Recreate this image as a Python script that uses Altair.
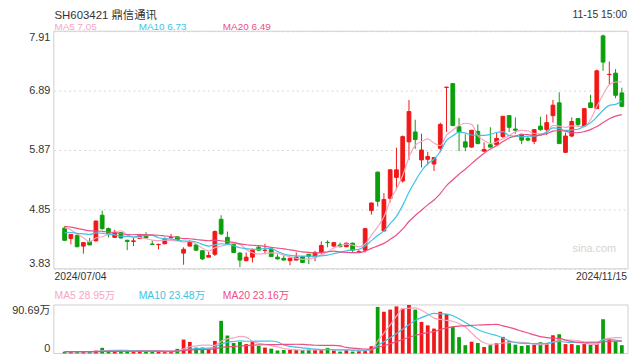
import altair as alt
import pandas as pd
import numpy as np

# ---------------- data ----------------
opens = [4.53, 4.35, 4.40, 4.22, 4.30, 4.31, 4.75, 4.52, 4.37, 4.45,
         4.32, 4.30, 4.35, 4.41, 4.255, 4.245, 4.26, 4.365, 4.38, 4.10,
         4.22, 4.24, 4.14, 4.03, 4.08, 4.68, 4.37, 4.25, 4.10, 3.97,
         4.03, 4.20, 4.145, 4.17, 4.03, 4.01, 3.97, 3.98, 4.04, 4.08,
         4.03, 4.11, 4.285, 4.22, 4.24, 4.21, 4.27, 4.12, 4.15, 4.83,
         5.49, 4.48, 5.04, 5.40, 5.34, 6.01, 6.18, 5.70, 5.71, 5.63,
         5.90, 6.945, 7.01, 6.27, 6.01, 5.92, 6.19, 5.85, 5.96, 5.96,
         6.10, 6.46, 6.23, 6.14, 6.07, 6.02, 6.28, 6.22, 6.46, 6.68,
         5.83, 6.11, 6.41, 6.28, 6.68, 6.58, 7.83, 7.165, 7.19, 6.85]
closes = [4.32, 4.42, 4.21, 4.28, 4.24, 4.65, 4.52, 4.43, 4.46, 4.36,
          4.30, 4.31, 4.40, 4.36, 4.25, 4.25, 4.35, 4.37, 4.32, 4.165,
          4.29, 4.15, 4.00, 4.06, 4.47, 4.43, 4.26, 4.11, 3.98, 4.03,
          4.15, 4.15, 4.15, 4.04, 4.00, 3.98, 4.01, 4.03, 3.94, 4.04,
          4.11, 4.23, 4.28, 4.28, 4.21, 4.27, 4.15, 4.125, 4.52, 4.96,
          4.99, 5.02, 5.53, 5.53, 6.10, 6.53, 6.05, 5.87, 5.76, 5.74,
          6.31, 6.95, 6.29, 6.18, 5.92, 6.21, 5.98, 5.88, 5.92, 6.07,
          6.45, 6.26, 6.21, 6.04, 6.04, 6.22, 6.22, 6.34, 6.64, 5.98,
          6.11, 6.36, 6.31, 6.58, 6.60, 7.23, 7.38, 7.17, 6.81, 6.62]
highs = [4.56, 4.43, 4.43, 4.29, 4.36, 4.66, 4.83, 4.54, 4.50, 4.46,
         4.33, 4.37, 4.43, 4.46, 4.32, 4.26, 4.37, 4.43, 4.39, 4.20,
         4.32, 4.25, 4.15, 4.12, 4.49, 4.75, 4.47, 4.26, 4.12, 4.11,
         4.18, 4.22, 4.26, 4.18, 4.08, 4.06, 4.03, 4.11, 4.05, 4.08,
         4.14, 4.30, 4.32, 4.28, 4.28, 4.28, 4.28, 4.15, 4.53, 4.97,
         5.50, 5.13, 5.54, 5.91, 6.12, 6.73, 6.39, 6.15, 5.84, 5.75,
         6.34, 6.95, 7.01, 6.42, 6.14, 6.21, 6.31, 6.00, 6.26, 6.17,
         6.45, 6.47, 6.43, 6.15, 6.10, 6.23, 6.44, 6.48, 6.73, 6.86,
         6.17, 6.43, 6.42, 6.59, 6.82, 7.25, 7.85, 7.39, 7.26, 6.94]
lows = [4.31, 4.25, 4.20, 4.09, 4.24, 4.30, 4.50, 4.37, 4.36, 4.35,
        4.15, 4.22, 4.34, 4.35, 4.24, 4.165, 4.25, 4.34, 4.31, 3.90,
        4.22, 4.14, 3.98, 4.03, 4.05, 4.41, 4.25, 4.10, 3.86, 3.96,
        3.94, 4.14, 4.08, 4.03, 3.99, 3.98, 3.89, 3.98, 3.93, 3.91,
        3.96, 4.08, 4.20, 4.21, 4.20, 4.20, 4.12, 4.10, 4.11, 4.76,
        4.90, 4.47, 4.97, 5.19, 5.31, 5.70, 5.89, 5.57, 5.61, 5.51,
        5.83, 6.18, 6.28, 5.85, 5.85, 5.91, 5.97, 5.84, 5.91, 5.95,
        6.08, 6.18, 6.15, 5.97, 6.02, 5.97, 6.20, 6.13, 6.34, 5.98,
        5.83, 6.09, 6.27, 6.27, 6.59, 6.58, 7.23, 7.00, 6.76, 6.61]
# volume, in 万 shares
vols = [3.3, 3.3, 3.3, 3.3, 3.3, 5.5, 10.5, 5.5, 5.5, 4.4,
        4.4, 4.4, 4.4, 3.3, 3.3, 3.3, 3.3, 3.3, 8.5, 26.0,
        21.5, 11.0, 11.0, 8.0, 23.5, 61.0, 33.5, 19.5, 21.5, 17.5,
        22.0, 14.0, 11.0, 9.0, 5.5, 6.5, 6.5, 6.5, 6.5, 7.0,
        7.0, 7.0, 10.5, 5.5, 3.5, 6.5, 3.5, 5.5, 6.5, 13.5,
        87.0, 78.0, 82.0, 88.0, 84.0, 90.69, 82.0, 59.0, 52.5, 46.5,
        78.0, 74.0, 50.0, 30.5, 15.5, 22.0, 19.5, 12.0, 15.5, 19.5,
        31.0, 23.0, 16.5, 14.0, 15.5, 16.0, 21.0, 19.5, 34.0, 36.0,
        17.5, 17.5, 15.5, 17.5, 16.0, 17.5, 64.0, 28.0, 22.5, 15.5]
# sessions before 2024/07/04 (only feed the moving averages at the left edge)
prior_closes = [4.67] * 10 + [4.36] * 5 + [4.59] * 4
prior_vols = [3.3] * 19

ma_labels = ["MA5 7.05", "MA10 6.73", "MA20 6.49"]
vma_labels = ["MA5 28.95万", "MA10 23.48万", "MA20 23.16万"]
price_ticks = [3.83, 4.85, 5.87, 6.89, 7.91]
vol_ticks = [0, 90.69]
title_text = "SH603421 鼎信通讯"
time_text = "11-15 15:00"
first_date, last_date = "2024/07/04", "2024/11/15"

# ---------------- table ----------------
n = len(closes)
c_all = pd.Series(prior_closes + closes)
v_all = pd.Series(prior_vols + vols)
k = len(prior_closes)
df = pd.DataFrame({
    "i": np.arange(n),
    "open": opens, "close": closes, "high": highs, "low": lows, "vol": vols,
    "ma5": c_all.rolling(5).mean().iloc[k:].values,
    "ma10": c_all.rolling(10).mean().iloc[k:].values,
    "ma20": c_all.rolling(20).mean().iloc[k:].values,
    "vma5": v_all.rolling(5).mean().iloc[k:].values,
    "vma10": v_all.rolling(10).mean().iloc[k:].values,
    "vma20": v_all.rolling(20).mean().iloc[k:].values,
})
df["dir"] = np.where(df["close"] >= df["open"], "up", "down")

# ---------------- style ----------------
RED, GREEN = "#f01818", "#0b9f0b"
C5, C10, C20 = "#f7a6c2", "#3ec3e5", "#ee4e82"
FONT = "Liberation Sans, Noto Sans CJK SC, sans-serif"
W = 580
PH = 240              # price panel height
VT, VB = 276.5, 325.5  # volume panel top / bottom
FRAME = "#cfcfcf"

xenc = alt.X("i:Q", scale=alt.Scale(domain=[-0.93, 89.2], nice=False, zero=False), axis=None)
pscale = alt.Scale(domain=[3.83, 7.91], range=[PH, 0], nice=False, zero=False)
vscale = alt.Scale(domain=[0, 90.69], range=[VB, VT], nice=False, zero=False)
cscale = alt.Scale(domain=["up", "down"], range=[RED, GREEN])

base = alt.Chart(df)

price_axis = alt.Axis(values=price_ticks, format=".2f", grid=True, gridDash=[2, 3],
                      gridColor="#d8d8d8", ticks=False, domain=False, labelFlush=True,
                      labelPadding=4, labelFontSize=11, labelColor="#333", labelFont=FONT,
                      title=None, orient="left")
vol_axis = alt.Axis(values=vol_ticks, grid=False, ticks=False, domain=False, labelFlush=True,
                    labelExpr="datum.value == 0 ? '0' : format(datum.value, '.2f') + '万'",
                    labelPadding=4, labelFontSize=11, labelColor="#333", labelFont=FONT,
                    title=None, orient="left")

grid_layer = base.mark_rule(opacity=0).encode(
    y=alt.Y("close:Q", scale=pscale, axis=price_axis))

wicks = base.mark_rule(strokeWidth=1).encode(
    x=xenc,
    y=alt.Y("low:Q", scale=pscale, axis=None),
    y2="high:Q",
    color=alt.Color("dir:N", scale=cscale, legend=None))

bodies = base.mark_bar(size=3.8, strokeWidth=1).encode(
    x=xenc,
    y=alt.Y("open:Q", scale=pscale, axis=None),
    y2="close:Q",
    color=alt.Color("dir:N", scale=cscale, legend=None),
    stroke=alt.Stroke("dir:N", scale=cscale, legend=None))

def ma_line(field, color, scale):
    return base.mark_line(strokeWidth=1.2, color=color, interpolate="monotone").encode(
        x=xenc, y=alt.Y(f"{field}:Q", scale=scale, axis=None))

vol_axis_layer = base.mark_rule(opacity=0).encode(
    y=alt.Y("vol:Q", scale=vscale, axis=vol_axis))

vbars = base.mark_bar(size=3.8).encode(
    x=xenc,
    y=alt.Y("vol:Q", scale=vscale, axis=None),
    color=alt.Color("dir:N", scale=cscale, legend=None))

one = pd.DataFrame({"a": [0]})

def frame(y0, y1):
    return alt.Chart(one).mark_rect(filled=False, stroke=FRAME, strokeWidth=1).encode(
        x=alt.value(0), x2=alt.value(W), y=alt.value(y0), y2=alt.value(y1))

def label(text, x, y, color="#333", size=10.5, align="left", baseline="middle"):
    return alt.Chart(one).mark_text(text=text, align=align, baseline=baseline,
                                    fontSize=size, font=FONT, color=color).encode(
        x=alt.value(x), y=alt.value(y))

texts = [
    label(title_text, 0.7, -21.6, size=11.5, baseline="top"),
    label(time_text, W - 1, -21.6, size=10.5, align="right", baseline="top"),
    label(ma_labels[0], 0.7, -4.6, color=C5, size=10),
    label(ma_labels[1], 85.7, -4.6, color=C10, size=10),
    label(ma_labels[2], 170.7, -4.6, color=C20, size=10),
    label(first_date, 0.7, 248.5),
    label(last_date, W - 1, 248.5, align="right"),
    label(vma_labels[0], 0.7, 267.5, color=C5),
    label(vma_labels[1], 85.7, 267.5, color=C10),
    label(vma_labels[2], 170.7, 267.5, color=C20),
    label("sina.com", 546, 220.5, color="#d5d5d5", size=11, align="center"),
]

chart = alt.layer(
    grid_layer, vol_axis_layer,
    frame(0, PH), frame(VT, VB),
    wicks, bodies,
    ma_line("ma5", C5, pscale), ma_line("ma10", C10, pscale), ma_line("ma20", C20, pscale),
    vbars,
    ma_line("vma5", C5, vscale), ma_line("vma10", C10, vscale), ma_line("vma20", C20, vscale),
    *texts,
).resolve_scale(y="independent").properties(
    width=W, height=VB,
    autosize=alt.AutoSizeParams(type="none"),
    padding={"left": 46.3, "top": 21.7, "right": 4, "bottom": 1},
).configure_view(stroke=None)

chart.save("out.html", embed_options={"renderer": "svg", "actions": False})
